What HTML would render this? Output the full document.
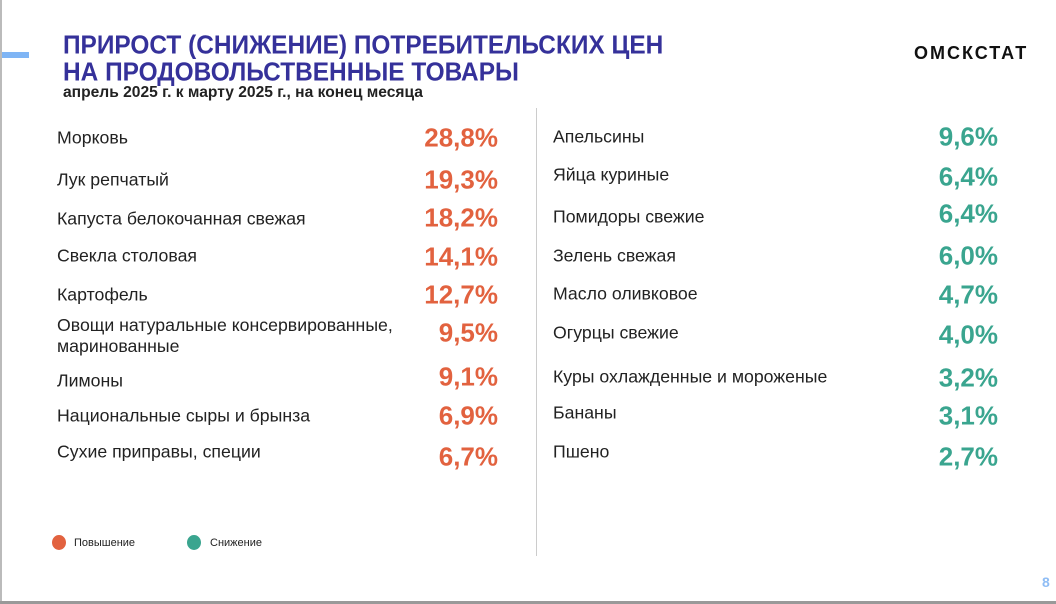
<!DOCTYPE html>
<html><head><meta charset="utf-8"><style>
body{margin:0;width:1056px;height:604px;background:#fff;position:relative;overflow:hidden;font-family:"Liberation Sans",sans-serif}
.a{position:absolute;white-space:nowrap}
.t{left:63px;font-size:25px;font-weight:bold;color:#35319a;transform:scale(0.977,1.03);transform-origin:left top}
.l{left:57px;font-size:17.7px;color:#222;transform:translateY(-50%)}
.r{left:553px;font-size:17.7px;color:#222;transform:translateY(-50%)}
.v{font-size:26px;font-weight:bold;transform:translateY(-50%);text-align:right;width:120px}
.o{left:378px;color:#e2623f}
.g{left:878px;color:#3aa58f}
</style></head><body>
<div class="a" style="left:0;top:0;width:2px;height:604px;background:#bbb"></div>
<div class="a" style="left:0;top:601px;width:1056px;height:3px;background:#999"></div>
<div class="a" style="left:2px;top:52px;width:27px;height:6px;background:#7fb5f5"></div>
<div class="a t" style="top:31px">ПРИРОСТ (СНИЖЕНИЕ) ПОТРЕБИТЕЛЬСКИХ ЦЕН</div>
<div class="a t" style="top:58px">НА ПРОДОВОЛЬСТВЕННЫЕ ТОВАРЫ</div>
<div class="a" style="left:63px;top:84px;font-size:15.6px;font-weight:bold;color:#222">апрель 2025 г. к марту 2025 г., на конец месяца</div>
<div class="a" style="left:914px;top:43px;font-size:18px;font-weight:bold;letter-spacing:2px;color:#111">ОМСКСТАТ</div>
<div class="a" style="left:536px;top:108px;width:1px;height:448px;background:#ccc"></div>

<div class="a l" style="top:138px">Морковь</div><div class="a v o" style="top:138px">28,8%</div>
<div class="a l" style="top:180px">Лук репчатый</div><div class="a v o" style="top:180px">19,3%</div>
<div class="a l" style="top:219px">Капуста белокочанная свежая</div><div class="a v o" style="top:218px">18,2%</div>
<div class="a l" style="top:256px">Свекла столовая</div><div class="a v o" style="top:257px">14,1%</div>
<div class="a l" style="top:295px">Картофель</div><div class="a v o" style="top:295px">12,7%</div>
<div class="a l" style="top:336px;line-height:21px">Овощи натуральные консервированные,<br>маринованные</div><div class="a v o" style="top:333px">9,5%</div>
<div class="a l" style="top:381px">Лимоны</div><div class="a v o" style="top:377px">9,1%</div>
<div class="a l" style="top:416px">Национальные сыры и брынза</div><div class="a v o" style="top:416px">6,9%</div>
<div class="a l" style="top:452px">Сухие приправы, специи</div><div class="a v o" style="top:457px">6,7%</div>

<div class="a r" style="top:137px">Апельсины</div><div class="a v g" style="top:137px">9,6%</div>
<div class="a r" style="top:175px">Яйца куриные</div><div class="a v g" style="top:177px">6,4%</div>
<div class="a r" style="top:217px">Помидоры свежие</div><div class="a v g" style="top:214px">6,4%</div>
<div class="a r" style="top:256px">Зелень свежая</div><div class="a v g" style="top:256px">6,0%</div>
<div class="a r" style="top:294px">Масло оливковое</div><div class="a v g" style="top:295px">4,7%</div>
<div class="a r" style="top:333px">Огурцы свежие</div><div class="a v g" style="top:335px">4,0%</div>
<div class="a r" style="top:377px">Куры охлажденные и мороженые</div><div class="a v g" style="top:378px">3,2%</div>
<div class="a r" style="top:413px">Бананы</div><div class="a v g" style="top:416px">3,1%</div>
<div class="a r" style="top:452px">Пшено</div><div class="a v g" style="top:457px">2,7%</div>

<div class="a" style="left:52px;top:535px;width:14px;height:15px;border-radius:50%;background:#e2623f"></div>
<div class="a" style="left:74px;top:537px;font-size:11px;color:#222">Повышение</div>
<div class="a" style="left:187px;top:535px;width:14px;height:15px;border-radius:50%;background:#3aa58f"></div>
<div class="a" style="left:210px;top:537px;font-size:11px;color:#222">Снижение</div>
<div class="a" style="left:1042px;top:574px;font-size:14px;font-weight:bold;color:#8fbdf5">8</div>
</body></html>
